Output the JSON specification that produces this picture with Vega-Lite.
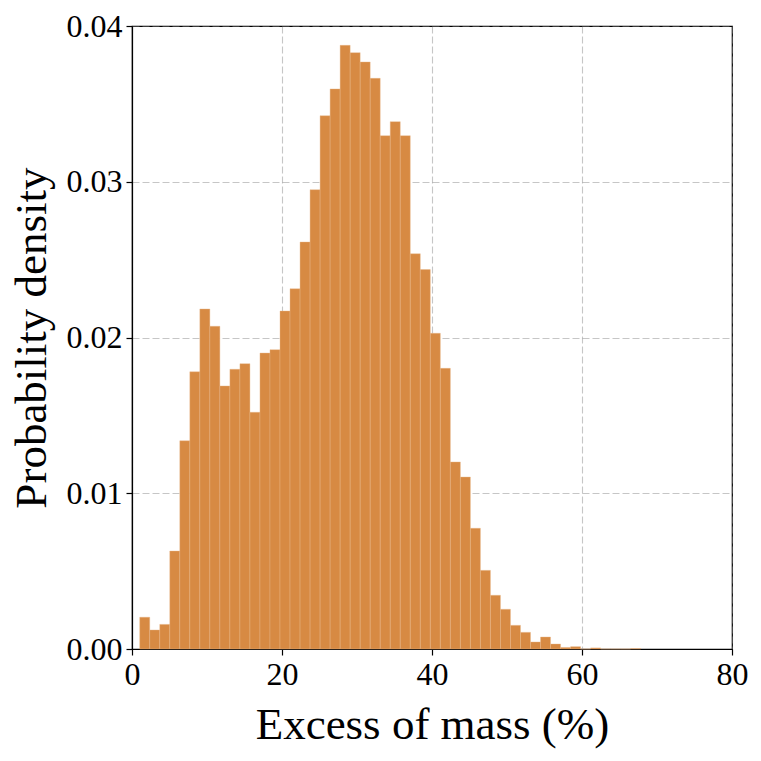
{
  "$schema": "https://vega.github.io/schema/vega-lite/v6.json",
  "width": 600,
  "height": 623,
  "autosize": "none",
  "padding": {"left": 132, "top": 26, "right": 29, "bottom": 112},
  "background": "white",
  "config": {
    "font": "Liberation Serif",
    "view": {"stroke": "black", "strokeWidth": 1.2},
    "axis": {
      "labelFont": "Liberation Serif",
      "titleFont": "Liberation Serif",
      "labelFontSize": 32,
      "titleFontSize": 45,
      "titleFontWeight": "normal",
      "labelColor": "black",
      "titleColor": "black",
      "labelFlush": false,
      "domainColor": "black",
      "domainWidth": 1.2,
      "tickColor": "black",
      "tickWidth": 1.2,
      "tickSize": 6,
      "labelPadding": 4,
      "grid": true,
      "gridColor": "#808080",
      "gridOpacity": 0.45,
      "gridDash": [7, 3],
      "gridWidth": 1.1,
      "zindex": 1
    }
  },
  "data": {
    "values": [
      {"x0": 1.03, "x1": 2.366, "density": 0.00204},
      {"x0": 2.366, "x1": 3.702, "density": 0.00122},
      {"x0": 3.702, "x1": 5.038, "density": 0.00158},
      {"x0": 5.038, "x1": 6.374, "density": 0.00629},
      {"x0": 6.374, "x1": 7.71, "density": 0.01337},
      {"x0": 7.71, "x1": 9.046, "density": 0.0178},
      {"x0": 9.046, "x1": 10.382, "density": 0.02183},
      {"x0": 10.382, "x1": 11.718, "density": 0.02072},
      {"x0": 11.718, "x1": 13.054, "density": 0.01689},
      {"x0": 13.054, "x1": 14.39, "density": 0.01796},
      {"x0": 14.39, "x1": 15.726, "density": 0.01832},
      {"x0": 15.726, "x1": 17.062, "density": 0.0152},
      {"x0": 17.062, "x1": 18.398, "density": 0.019},
      {"x0": 18.398, "x1": 19.734, "density": 0.01922},
      {"x0": 19.734, "x1": 21.07, "density": 0.0217},
      {"x0": 21.07, "x1": 22.406, "density": 0.02313},
      {"x0": 22.406, "x1": 23.742, "density": 0.02613},
      {"x0": 23.742, "x1": 25.078, "density": 0.02949},
      {"x0": 25.078, "x1": 26.414, "density": 0.03424},
      {"x0": 26.414, "x1": 27.75, "density": 0.03596},
      {"x0": 27.75, "x1": 29.086, "density": 0.03876},
      {"x0": 29.086, "x1": 30.422, "density": 0.03829},
      {"x0": 30.422, "x1": 31.758, "density": 0.03769},
      {"x0": 31.758, "x1": 33.094, "density": 0.03664},
      {"x0": 33.094, "x1": 34.43, "density": 0.03296},
      {"x0": 34.43, "x1": 35.766, "density": 0.03386},
      {"x0": 35.766, "x1": 37.102, "density": 0.03296},
      {"x0": 37.102, "x1": 38.438, "density": 0.02538},
      {"x0": 38.438, "x1": 39.774, "density": 0.02436},
      {"x0": 39.774, "x1": 41.11, "density": 0.02027},
      {"x0": 41.11, "x1": 42.446, "density": 0.01802},
      {"x0": 42.446, "x1": 43.782, "density": 0.01201},
      {"x0": 43.782, "x1": 45.118, "density": 0.01104},
      {"x0": 45.118, "x1": 46.454, "density": 0.00775},
      {"x0": 46.454, "x1": 47.79, "density": 0.00505},
      {"x0": 47.79, "x1": 49.126, "density": 0.00345},
      {"x0": 49.126, "x1": 50.462, "density": 0.00255},
      {"x0": 50.462, "x1": 51.798, "density": 0.00152},
      {"x0": 51.798, "x1": 53.134, "density": 0.00107},
      {"x0": 53.134, "x1": 54.47, "density": 0.00045},
      {"x0": 54.47, "x1": 55.806, "density": 0.00077},
      {"x0": 55.806, "x1": 57.142, "density": 0.00032},
      {"x0": 57.142, "x1": 58.478, "density": 0.0001},
      {"x0": 58.478, "x1": 59.814, "density": 0.00015},
      {"x0": 59.814, "x1": 61.15, "density": 0},
      {"x0": 61.15, "x1": 62.486, "density": 0.00007},
      {"x0": 62.486, "x1": 63.822, "density": 0},
      {"x0": 63.822, "x1": 65.158, "density": 0},
      {"x0": 65.158, "x1": 66.494, "density": 0},
      {"x0": 66.494, "x1": 67.83, "density": 0.00003}
    ]
  },
  "mark": {
    "type": "rect",
    "color": "#d78a43",
    "stroke": "#e9b88a",
    "strokeWidth": 0.4
  },
  "encoding": {
    "x": {
      "field": "x0",
      "type": "quantitative",
      "scale": {"domain": [0, 80], "nice": false},
      "axis": {
        "title": "Excess of mass (%)",
        "values": [0, 20, 40, 60, 80],
        "format": "d",
        "titlePadding": 12
      }
    },
    "x2": {"field": "x1"},
    "y": {
      "field": "density",
      "type": "quantitative",
      "scale": {"domain": [0, 0.04], "nice": false},
      "axis": {
        "title": "Probability density",
        "values": [0, 0.01, 0.02, 0.03, 0.04],
        "format": ".2f",
        "titlePadding": 12
      }
    },
    "y2": {"datum": 0}
  }
}
